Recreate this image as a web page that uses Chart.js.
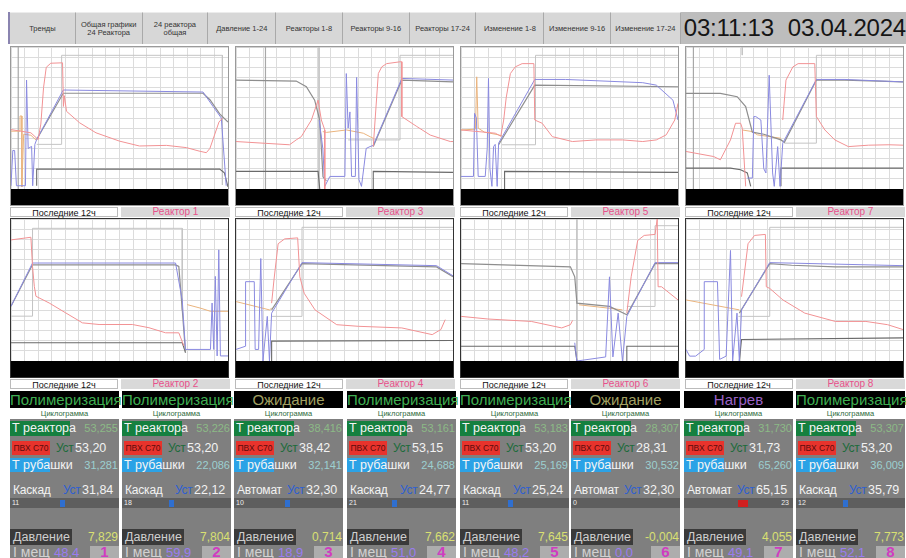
<!DOCTYPE html>
<html>
<head>
<meta charset="utf-8">
<script src="https://cdn.jsdelivr.net/npm/chart.js@4.4.1/dist/chart.umd.min.js"></script>
<style>
body{margin:0;width:906px;height:558px;overflow:hidden;background:#fff;font-family:"Liberation Sans",Arial,sans-serif;position:relative}
#nav{position:absolute;left:8px;top:12px;width:898px;height:32px;display:flex;background:#d0d0d0;border-left:2px solid #8a84b0;box-sizing:border-box}
.btn{box-sizing:border-box;height:32px;border-right:1px solid #a9a9a9;border-top:1px solid #ececec;display:flex;align-items:center;justify-content:center;text-align:center;font-size:7.5px;line-height:8px;color:#333;background:#d7d7d7}
#clock{flex:1;background:#bdbdbd;font-size:24px;color:#151515;display:flex;align-items:center;padding-left:3px;letter-spacing:-0.2px}
.panel{position:absolute;width:219px;height:160px;border:1px solid #333;box-sizing:border-box;background:#fff}
.panel.r0{border-color:#9a9a9a}
.panel canvas{position:absolute;left:0;top:0}
.blackbar{position:absolute;left:0;bottom:0;width:100%;height:16px;background:#000}
.lab{position:absolute;height:10px;font-size:9px;line-height:10px;text-align:center;box-sizing:border-box}
.lab.w{background:#fff;border:1px solid #bbb;color:#111}
.lab.g{background:#d9d9d9;color:#e8508a;font-size:10px}
.col{position:absolute;top:391px;height:167px;width:109px}
.col div{position:absolute;white-space:nowrap}
</style>
</head>
<body>
<div id="nav"></div>
<div id="charts"></div>
<div id="status"></div>
<script>
// top buttons
const navLabels = ['Тренды', 'Общая графики<br>24 Реактора', '24 реактора<br>общая', 'Давление 1-24', 'Реакторы 1-8',
  'Реакторы 9-16', 'Реакторы 17-24', 'Изменение 1-8', 'Изменение 9-16', 'Изменение 17-24'];
const clockTime = '03:11:13';
const clockDate = '03.04.2024';

// trends: x = hours of the last 12h window, y = chart units 0..70
const r1Pink = [[0,29.3],[1.1,27.7],[1.5,24.4],[1.65,32],[1.8,50],[1.95,60],[2.2,62],[2.85,62.2],[2.9,40.7],[2.95,46],[3.07,38.3],[3.8,32.6],[4.7,27.7],[6.0,23.6],[7.1,21.2],[8.6,21.5],[9.7,20.4],[10.4,18.7],[10.8,17.9],[11.0,20],[11.5,33],[11.7,35]];
const r1Gray = [[1.42,24.4],[2.89,47.2],[10.62,47.2],[11.0,44],[11.54,37],[12,33]];
const r1Blue = [[0,1.6],[0.1,19],[0.2,19],[0.3,1.6],[0.8,1.6],[0.86,53.7],[0.95,20],[1.14,21],[1.2,1.6],[1.32,22],[1.42,24.4],[2.89,48.8],[10.62,47.8],[11.17,40.7],[11.63,35],[11.9,1.6]];
const r1Orange = [[0,28.5],[0.5,28.5],[0.5,36],[0.6,36],[0.6,1],[0.7,27],[1.1,26.5],[1.4,24]];
const r1Step = [[1.42,22],[2.8,22],[2.8,65.9],[11.69,65.9],[11.69,2]];
const r1Low = [[1.42,1.6],[1.42,9.8],[11.54,9.8],[11.8,8],[12,1]];
const r1Cursor = [[0.4,0],[0.4,70]];

const r2Pink = [[0,59.7],[1.1,61.0],[1.19,46.6],[1.29,36.8],[1.38,31.9],[2.11,28.6],[3.03,23.7],[3.95,18.8],[4.87,18.0],[6.71,18.0],[7.63,16.4],[8.55,13.9],[9.28,13.9],[9.56,7.4]];
const r2Gray = [[0,27.0],[1.19,47.4],[9.10,47.4],[9.28,46.6],[9.47,25.4],[9.65,4.1]];
const r2Blue = [[0,27.0],[1.19,48.3],[9.10,48.3],[9.47,30],[9.65,5.7],[11.03,5.7],[11.12,28.6],[11.21,5.7],[11.30,41.7],[11.40,2.5],[11.49,54.8],[11.58,2.5],[12,2.5]];
const r2Orange = [[9.74,27.8],[10.5,26],[11.03,24.5],[12,24.5]];
const r2Step = [[0,22.1],[1.19,22.1],[1.19,65.4],[9.47,65.4],[9.47,25]];
const r2Low = [[0,9.0],[9.47,9.0],[9.65,4.1]];
const r2Cursor = [];

const r3Pink = [[0,23.4],[2.96,21.8],[3.33,24.2],[3.61,25.8],[4.17,34],[4.54,43.8],[4.72,34],[4.91,29.1],[4.91,0],[5.0,null],[7.59,20.9],[7.87,56.9],[8.06,60.2],[8.33,61.8],[9.07,62.7],[9.17,62.7],[9.17,35.7],[10.0,30.8],[10.74,26.6],[11.85,23.4],[12,23.4]];
const r3Gray = [[0,53.7],[3.33,53.2],[3.89,50.4],[4.35,43.8],[4.63,34],[4.81,6],[5.0,4],[5.1,null],[7.59,20.9],[9.17,53.7],[12,52.8]];
const r3Blue = [[4.6,34],[4.8,20],[4.91,1.3],[5.19,6.2],[6.02,6.2],[6.1,56.9],[6.2,30],[6.3,38],[6.39,6.2],[6.6,6.2],[6.67,55],[6.8,4.6],[6.94,1.3],[7.2,20],[7.41,20.9],[7.59,21.5],[9.17,54.5],[12,53.7]];
const r3Orange = [[4.8,28.3],[5.0,27.9],[6.11,29.1],[7.04,27.5],[7.41,25.8],[7.59,25]];
const r3Step = [[0,70],[4.59,70],[4.59,0],[5,null],[6.2,24.2],[9.07,24.2],[9.07,65.9],[12,65.9]];
const r3Low = [[0,8.7],[4.54,8.7],[4.63,0],[5,null],[7.59,0],[7.59,8.7],[12,8.2]];
const r3Cursor = [[1.63,0],[1.63,70]];

const r4Pink = [[1.97,28.5],[2.1,40],[2.33,57.8],[2.69,60.2],[3.41,60.7],[3.53,41.5],[3.77,33.4],[4.37,25.2],[5.57,17.9],[6.77,17.1],[9.17,16.3],[10.85,13.0],[11.33,15.5],[11.57,20.4]];
const r4Gray = [[1.97,25.2],[3.65,48.0],[11.09,46.4],[12,41.5]];
const r4Blue = [[0,5.7],[0.53,7.3],[0.53,39.1],[1.01,39.1],[1.06,5.7],[1.25,5.7],[1.37,50.5],[1.49,0],[1.73,22],[1.85,0],[1.97,23.6],[3.65,48.5],[11.09,47],[12,42]];
const r4Orange = [[0,29.3],[1.85,25.2],[1.97,26]];
const r4Step = [[1.97,22.0],[3.65,22.0],[3.65,65.9],[12,65.9]];
const r4Low = [[1.97,0],[1.97,9.8],[12,10.1]];
const r4Cursor = [];

const r5Pink = [[0,29.1],[1.9,27.5],[2.2,26.0],[2.36,34.0],[2.5,45],[2.73,56.9],[3.0,60.2],[3.38,61.8],[4.03,61.8],[4.08,34.0],[4.49,32.4],[5.05,25.8],[6.16,23.4],[7.46,24.2],[8.94,24.2],[10.05,23.4],[10.8,24.2],[11.35,26.7],[11.82,34],[12,42.2]];
const r5Gray = [[2.08,21.8],[4.08,51.2],[12,50.4]];
const r5Blue = [[0,6.2],[0.69,6.2],[0.75,37.3],[0.85,35],[0.95,6.2],[1.34,6.2],[1.45,20],[1.52,54.5],[1.6,10],[1.71,1.3],[1.8,20.9],[1.89,22],[2.0,1.3],[2.08,22.6],[4.08,54.0],[5.79,54.0],[10.05,52.4],[10.8,51.2],[11.72,43.8],[12,34]];
const r5Orange = [[0,29.1],[0.8,29.5],[0.87,55.3],[0.95,30],[1.3,28],[2.08,26.7],[2.3,26]];
const r5Step = [[2.26,21.8],[4.12,21.8],[4.12,65.9],[12,65.9]];
const r5Low = [[2.41,0],[2.41,8.7],[12,8.2]];
const r5Cursor = [];

const r6Pink = [[0,22.0],[1.49,20.7],[3.89,19.5],[5.57,16.3],[6.05,17.9],[6.17,20],[6.3,null],[9.17,23.6],[9.41,41.5],[9.77,59.4],[10.13,61.9],[10.73,62.4],[10.85,70],[10.9,36.6],[11.09,36.6],[12,30.1]];
const r6Gray = [[0,48.0],[6.05,46.4],[6.29,41.5],[6.41,28.5],[8.21,26.9],[9.17,22.8],[10.73,48.0],[12,48.0]];
const r6Blue = [[6.29,9.0],[6.41,0],[8.0,2],[8.21,41.5],[8.4,2],[8.69,23.6],[8.93,0],[9.17,22.0],[10.73,48.5],[12,48.5]];
const r6Orange = [[6.53,27.7],[8.21,26.0],[8.93,25.2]];
const r6Step = [[6.41,70],[6.41,0],[7,null],[9.17,26.9],[10.73,26.9],[10.73,66.7],[12,66.7]];
const r6Low = [[0,7.3],[6.29,7.3],[6.41,0],[7,null],[9.17,0],[9.17,7.3],[12,7.3]];
const r6Cursor = [];

const r7Pink = [[0,18.5],[1.53,16.0],[1.9,14.4],[2.46,24.2],[2.74,32.4],[3.02,32.4],[3.11,30],[3.30,1.3],[3.4,null],[5.35,34],[5.53,53.7],[5.91,60.2],[6.2,61.8],[7.12,61.8],[7.21,35.7],[7.68,29.1],[8.23,24.2],[8.98,20.9],[10.1,21.6],[11.22,21.8],[12,21.6]];
const r7Gray = [[0,47.1],[1.9,47.1],[2.83,45.5],[3.3,40.6],[3.67,28],[4.3,27],[5.25,24.2],[5.44,23],[7.21,53.7],[8.79,53.7],[12,52.8]];
const r7Blue = [[3.39,5.4],[3.67,5.4],[3.75,35.7],[3.86,35.7],[4.14,34.0],[4.3,10],[4.42,7.9],[4.6,56.1],[4.79,7.9],[4.88,1.3],[5.07,20.9],[5.2,1.3],[5.35,22.6],[7.21,54.0],[8.79,54.0],[12,52.8]];
const r7Orange = [[3.11,29.1],[3.67,28.3],[3.95,26.7],[5.25,25.0]];
const r7Step = [[3.11,70],[3.11,66],[3.2,null],[5.44,22.6],[7.21,22.6],[7.21,65.9],[12,65.9]];
const r7Low = [[0,10.3],[2.46,10.3],[3.02,9.5],[3.39,7.9],[3.58,1.3],[4,null],[5.25,1.3],[5.25,10.3],[12,10.3]];
const r7Cursor = [[0.41,0],[0.41,70]];

const r8Pink = [[3.07,31.7],[3.43,57.8],[3.79,61.9],[4.39,62.4],[4.44,36.6],[4.63,35.8],[5.36,30.1],[6.57,23.6],[8.26,19.5],[9.95,19.5],[11.15,17.9],[12,15.5]];
const r8Gray = [[2.95,23.6],[4.63,48.0],[5.84,47.2],[8.26,46.4],[12,46.4]];
const r8Blue = [[0,5.7],[0.2,2.4],[0.53,2.4],[1.01,5.7],[1.01,39.1],[1.74,39.1],[1.86,0.8],[2.22,2.4],[2.46,54.5],[2.58,0],[2.82,23.6],[2.95,0],[3.07,25.2],[4.63,48.5],[12,47]];
const r8Orange = [[0,30.1],[2.95,25.2]];
const r8Step = [[2.9,22.0],[4.63,22.0],[4.63,65.9],[12,65.9]];
const r8Low = [[2.95,0],[3.07,10.6],[12,11.4]];
const r8Cursor = [];

// reactor status fields
const reactorNames = ['Реактор 1','Реактор 2','Реактор 3','Реактор 4','Реактор 5','Реактор 6','Реактор 7','Реактор 8'];
const stateNames = ['Полимеризация','Полимеризация','Ожидание','Полимеризация','Полимеризация','Ожидание','Нагрев','Полимеризация'];
const tReactor = ['53,255','53,226','38,416','53,161','53,183','28,307','31,730','53,307'];
const ustReactor = ['53,20','53,20','38,42','53,15','53,20','28,31','31,73','53,20'];
const tJacket = ['31,281','22,086','32,141','24,688','25,169','30,532','65,260','36,009'];
const modes = ['Каскад','Каскад','Автомат','Каскад','Каскад','Автомат','Автомат','Каскад'];
const ustJacket = ['31,84','22,12','32,30','24,77','25,24','32,30','65,15','35,79'];
const valveLabel = ['11','18','10','21','11','0','23','12'];
const pressure = ['7,829','7,804','0,714','7,662','7,645','-0,004','4,055','7,773'];
const iMesh = ['48,4','59,9','18,9','51,0','48,2','0,0','49,1','52,1'];

// nav
const nav = document.getElementById('nav');
const navW = [66,67,66,68,67,67,67,68,67,70];
navLabels.forEach((t, i) => {
    const b = document.createElement('div');
    b.className = 'btn';
    b.style.width = navW[i] + 'px';
    b.innerHTML = t;
    nav.appendChild(b);
});
const clock = document.createElement('div');
clock.id = 'clock';
clock.innerHTML = clockTime + '<span style="display:inline-block;width:14px"></span>' + clockDate;
nav.appendChild(clock);

// chart panels
const reactorSeries = [
    [r1Step, r1Cursor, r1Low, r1Orange, r1Gray, r1Blue, r1Pink],
    [r2Step, r2Cursor, r2Low, r2Orange, r2Gray, r2Blue, r2Pink],
    [r3Step, r3Cursor, r3Low, r3Orange, r3Gray, r3Blue, r3Pink],
    [r4Step, r4Cursor, r4Low, r4Orange, r4Gray, r4Blue, r4Pink],
    [r5Step, r5Cursor, r5Low, r5Orange, r5Gray, r5Blue, r5Pink],
    [r6Step, r6Cursor, r6Low, r6Orange, r6Gray, r6Blue, r6Pink],
    [r7Step, r7Cursor, r7Low, r7Orange, r7Gray, r7Blue, r7Pink],
    [r8Step, r8Cursor, r8Low, r8Orange, r8Gray, r8Blue, r8Pink]
];
const lineStyles = [
    {color: '#c4c4c4', width: 1},
    {color: '#a8a8a8', width: 1.2},
    {color: '#6a6a6a', width: 1.1},
    {color: '#eab47e', width: 1},
    {color: '#8e8e8e', width: 1.2},
    {color: '#8a8ae0', width: 1},
    {color: '#f29294', width: 1}
];

const panelLeft = [10, 235, 460, 685];
const rowTop = [46, 218];
const charts = document.getElementById('charts');

function makePanel(idx) {
    const col = Math.floor(idx / 2), row = idx % 2;
    const left = panelLeft[col], top = rowTop[row];
    const p = document.createElement('div');
    p.className = 'panel r' + row;
    p.style.left = left + 'px';
    p.style.top = top + 'px';
    const cv = document.createElement('canvas');
    cv.width = 217;
    cv.height = 142;
    p.appendChild(cv);
    const bb = document.createElement('div');
    bb.className = 'blackbar';
    p.appendChild(bb);
    charts.appendChild(p);

    const l1 = document.createElement('div');
    l1.className = 'lab w';
    l1.style.cssText = `left:${left}px;top:${top + 161}px;width:108px`;
    l1.textContent = 'Последние 12ч';
    charts.appendChild(l1);
    const l2 = document.createElement('div');
    l2.className = 'lab g';
    l2.style.cssText = `left:${left + 111}px;top:${top + 161}px;width:109px`;
    l2.textContent = reactorNames[idx];
    charts.appendChild(l2);

    new Chart(cv, {
        type: 'line',
        data: {
            datasets: reactorSeries[idx].map((d, k) => ({
                data: d,
                borderColor: lineStyles[k].color,
                borderWidth: lineStyles[k].width,
                pointRadius: 0,
                tension: 0,
                spanGaps: false,
                order: 10 - k
            }))
        },
        options: {
            responsive: false,
            animation: false,
            layout: {padding: 0},
            plugins: {legend: {display: false}, tooltip: {enabled: false}},
            scales: {
                x: {
                    type: 'linear', min: 0, max: 12,
                    ticks: {display: false, stepSize: 0.75, maxTicksLimit: 100},
                    grid: {color: '#dcdcdc', drawTicks: false},
                    border: {display: false}
                },
                y: {
                    min: 0, max: 70,
                    ticks: {display: false, stepSize: 5, maxTicksLimit: 100},
                    grid: {color: '#dcdcdc', drawTicks: false},
                    border: {display: false}
                }
            }
        }
    });
}
for (let i = 0; i < 8; i++) makePanel(i);

// status columns
const colLeft = [10, 122, 234, 347, 460, 571, 684, 796];
const stateColor = {'Полимеризация': '#3fae52', 'Ожидание': '#a2a062', 'Нагрев': '#9a62c8'};
const indicatorX = [50, 47, 51, 45, 48, null, 54, 47];
const status = document.getElementById('status');

colLeft.forEach((left, i) => {
    const c = document.createElement('div');
    c.className = 'col';
    c.style.left = left + 'px';
    const red = i === 6;
    c.innerHTML = `
        <div style="left:0;top:0;width:109px;height:17px;background:#000;color:${stateColor[stateNames[i]]};font-size:15px;line-height:17px;text-align:center">${stateNames[i]}</div>
        <div style="left:0;top:18px;width:109px;height:9px;background:#fff;color:#2e6b3c;font-size:7.5px;line-height:9px;text-align:center">Циклограмма</div>
        <div style="left:0;top:28px;width:109px;height:139px;background:#7f7f7f"></div>
        <div style="left:0;top:30px;width:60px;height:15px;background:#15803f"></div>
        <div style="left:2px;top:30px;height:15px;line-height:15px;font-size:12.5px;color:#f4f4f4">Т реактора</div>
        <div style="right:1px;top:30px;height:15px;line-height:15px;font-size:11px;color:#8cba86">${tReactor[i]}</div>
        <div style="left:2px;top:50px;width:38px;height:14px;background:#e8332c;color:#5a0c0c;font-size:8.5px;line-height:14px;text-align:center">ПВХ С70</div>
        <div style="left:46px;top:49px;height:16px;line-height:16px;font-size:12px;letter-spacing:-0.3px;color:#1c6b3b">Уст</div>
        <div style="left:65px;top:49px;height:16px;line-height:16px;font-size:12.5px;color:#f2f2f2">${ustReactor[i]}</div>
        <div style="left:0;top:67px;width:40px;height:14px;background:#2ba2e6"></div>
        <div style="left:2px;top:67px;height:14px;line-height:14px;font-size:12.5px;color:#f4f4f4">Т рубашки</div>
        <div style="right:1px;top:67px;height:14px;line-height:14px;font-size:11px;color:#9ccfd0">${tJacket[i]}</div>
        <div style="left:3px;top:91px;height:16px;line-height:16px;font-size:12px;letter-spacing:-0.2px;color:#f2f2f2">${modes[i]}</div>
        <div style="left:53px;top:91px;height:16px;line-height:16px;font-size:12px;letter-spacing:-0.3px;color:#2e5fd2">Уст</div>
        <div style="left:72px;top:91px;height:16px;line-height:16px;font-size:12.5px;color:#f2f2f2">${ustJacket[i]}</div>
        <div style="left:0;top:107px;width:109px;height:10px;background:#5e5e5e"></div>
        <div style="${red ? 'right:4px' : 'left:2px'};top:107px;height:10px;line-height:10px;font-size:7px;color:#eee">${valveLabel[i]}</div>
        ${indicatorX[i] === null ? '' : `<div style="left:${indicatorX[i]}px;top:109px;width:${red ? 10 : 5}px;height:7px;background:${red ? '#d02020' : '#2f6fd0'}"></div>`}
        <div style="left:0;top:138px;width:62px;height:16px;background:#3a3a3a"></div>
        <div style="left:3px;top:138px;height:16px;line-height:16px;font-size:12.5px;color:#cfcfcf">Давление</div>
        <div style="right:1px;top:138px;height:16px;line-height:16px;font-size:12px;color:#d9e072">${pressure[i]}</div>
        <div style="left:3px;top:155px;height:13px;line-height:13px;font-size:14px;color:#d2d2d2">I мещ</div>
        <div style="left:44px;top:155px;height:13px;line-height:13px;font-size:13px;color:#9a7cf0">${iMesh[i]}</div>
        <div style="left:80px;top:155px;width:29px;height:12px;background:#adadad"></div>
        <div style="left:80px;top:154px;width:29px;height:13px;line-height:13px;font-size:15px;font-weight:bold;color:#d03cc0;text-align:center">${i + 1}</div>
    `;
    status.appendChild(c);
});
</script>
</body>
</html>
